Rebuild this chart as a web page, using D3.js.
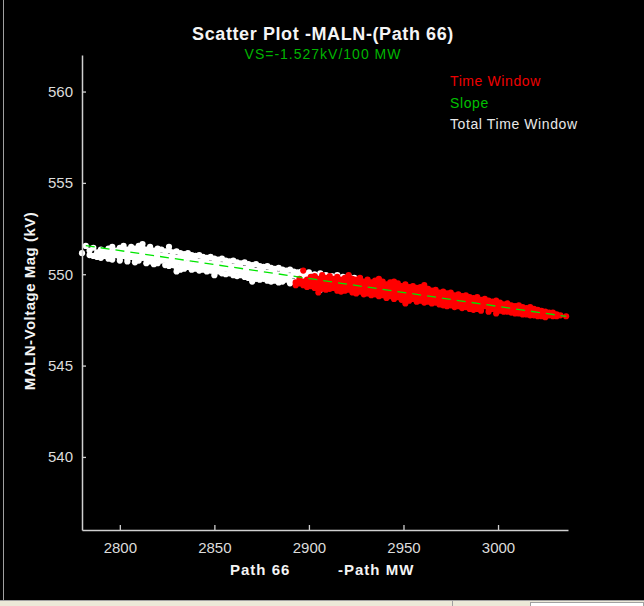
<!DOCTYPE html>
<meta charset="utf-8">
<style>
  body { margin: 0; background: #000; }
  svg { display: block; }
  text { font-family: "Liberation Sans", Arial, sans-serif; }
</style>
<svg width="644" height="606"></svg>
<script src="https://cdn.jsdelivr.net/npm/d3@7"></script>
<script>

// chart texts
var title = "Scatter Plot -MALN-(Path 66)",
    subtitle = "VS=-1.527kV/100 MW",
    yLabel = "MALN-Voltage Mag (kV)",
    xLabelA = "Path 66",
    xLabelB = "-Path MW";

var legendItems = [
  { name: "Time Window", color: "#ee0000" },
  { name: "Slope", color: "#00c000" },
  { name: "Total Time Window", color: "#e8e8e8" }
];

var xTicks = [2800, 2850, 2900, 2950, 3000],
    yTicks = [540, 545, 550, 555, 560];

// total time window (white): [MW, kV readings...]
var totalWindow = [
  [2780, 551.15], [2782, 551.55], [2784, 551.3, 551.05], [2786, 551.45, 551.0],
  [2788, 551.2, 550.95], [2790, 551.35, 551.1, 550.9], [2792, 551.25, 551.0],
  [2794, 551.4, 551.15, 550.85], [2796, 551.5, 551.2, 550.95, 550.8],
  [2798, 551.3, 551.05], [2800, 551.45, 551.2, 550.9, 550.75],
  [2802, 551.55, 551.3, 551.0], [2804, 551.35, 551.1, 550.85, 550.7],
  [2806, 551.5, 551.25, 550.95], [2808, 551.4, 551.15, 550.85, 550.65],
  [2810, 551.55, 551.3, 551.0, 550.75], [2812, 551.65, 551.45, 551.2, 550.9],
  [2814, 551.35, 551.1, 550.8, 550.6], [2816, 551.5, 551.25, 551.0, 550.7],
  [2818, 551.3, 551.05, 550.8, 550.55], [2820, 551.4, 551.15, 550.9, 550.6],
  [2822, 551.35, 551.0, 550.75], [2824, 551.25, 551.05, 550.8, 550.5],
  [2826, 551.5, 551.3, 550.95, 550.7, 550.45], [2828, 551.2, 551.0, 550.75, 550.5],
  [2830, 551.25, 550.9, 550.65, 550.35, 550.15], [2832, 551.15, 550.95, 550.7, 550.4, 550.25],
  [2834, 551.1, 550.85, 550.55, 550.3], [2836, 551.15, 550.9, 550.6, 550.4],
  [2838, 551.05, 550.8, 550.5, 550.25], [2840, 551.0, 550.75, 550.55, 550.3],
  [2842, 551.05, 550.7, 550.45, 550.2], [2844, 550.95, 550.75, 550.5, 550.25],
  [2846, 550.9, 550.65, 550.4, 550.15], [2848, 550.95, 550.6, 550.35, 550.2],
  [2850, 550.85, 550.65, 550.4, 550.1, 549.95], [2852, 550.8, 550.55, 550.3, 550.15],
  [2854, 550.85, 550.5, 550.25, 550.05], [2856, 550.75, 550.55, 550.3, 550.0],
  [2858, 550.7, 550.45, 550.2, 550.05], [2860, 550.75, 550.4, 550.15, 549.95],
  [2862, 550.65, 550.45, 550.2, 549.9], [2864, 550.6, 550.35, 550.1, 549.95],
  [2866, 550.65, 550.3, 550.05, 549.85], [2868, 550.55, 550.35, 550.1, 549.8],
  [2870, 550.5, 550.25, 550.0, 549.85, 549.6], [2872, 550.55, 550.2, 549.95, 549.75],
  [2874, 550.45, 550.25, 550.0, 549.7], [2876, 550.4, 550.15, 549.9, 549.75],
  [2878, 550.45, 550.1, 549.85, 549.65], [2880, 550.35, 550.15, 549.9, 549.6],
  [2882, 550.3, 550.05, 549.8, 549.65], [2884, 550.35, 550.0, 549.75, 549.55],
  [2886, 550.25, 550.05, 549.8, 549.6], [2888, 550.2, 549.95, 549.7],
  [2890, 550.25, 549.9, 549.65, 549.5], [2892, 550.15, 549.95, 549.6],
  [2894, 550.1, 549.85, 549.55], [2896, 550.15, 549.9], [2898, 550.05, 549.8, 549.5],
  [2900, 550.1, 549.85], [2903, 550.0, 549.75, 549.4], [2906, 550.05, 549.8, 549.15],
  [2909, 549.95, 549.35], [2912, 549.9, 549.3], [2915, 549.95, 549.25],
  [2918, 549.85], [2921, 549.9], [2924, 549.8], [2927, 549.75]
];

// selected time window (red): [MW, kV readings...]
var timeWindow = [
  [2893, 549.55, 549.4], [2895, 549.75, 549.5], [2897, 550.2, 549.6, 549.4],
  [2899, 549.7, 549.45, 549.3], [2901, 549.85, 549.6, 549.35],
  [2903, 549.9, 549.65, 549.45, 549.25], [2905, 549.75, 549.5, 549.3, 549.0],
  [2907, 549.95, 549.7, 549.45, 549.2], [2909, 549.8, 549.55, 549.35, 549.15],
  [2911, 549.9, 549.6, 549.4, 549.2], [2913, 549.75, 549.5, 549.25],
  [2915, 549.85, 549.6, 549.35, 549.1], [2917, 549.7, 549.45, 549.2, 549.05],
  [2919, 549.8, 549.55, 549.3, 549.1], [2921, 549.95, 549.65, 549.4, 549.15],
  [2923, 549.75, 549.5, 549.25, 549.0], [2925, 549.7, 549.45, 549.2, 548.95],
  [2927, 549.8, 549.55, 549.3, 549.05], [2929, 549.6, 549.35, 549.1, 548.9],
  [2931, 549.7, 549.45, 549.2, 548.95], [2933, 549.55, 549.3, 549.05, 548.85],
  [2935, 549.65, 549.4, 549.15, 548.9], [2937, 549.75, 549.5, 549.25, 549.0, 548.8],
  [2939, 549.6, 549.35, 549.1, 548.85], [2941, 549.45, 549.2, 548.95, 548.7],
  [2943, 549.55, 549.3, 549.05, 548.8], [2945, 549.6, 549.4, 549.15, 548.9, 548.65],
  [2947, 549.5, 549.25, 549.0, 548.75], [2949, 549.35, 549.1, 548.85, 548.6],
  [2951, 549.45, 549.2, 548.95, 548.7, 548.4], [2953, 549.3, 549.05, 548.8, 548.55],
  [2955, 549.35, 549.1, 548.85, 548.65], [2957, 549.25, 549.0, 548.75, 548.5],
  [2959, 549.3, 549.05, 548.8, 548.55], [2961, 549.4, 549.15, 548.9, 548.65, 548.45],
  [2963, 549.2, 548.95, 548.7, 548.5], [2965, 549.1, 548.85, 548.6, 548.4],
  [2967, 549.15, 548.9, 548.65, 548.45], [2969, 549.0, 548.75, 548.5, 548.35],
  [2971, 549.05, 548.8, 548.55, 548.3], [2973, 548.95, 548.7, 548.45, 548.25],
  [2975, 549.0, 548.75, 548.5, 548.3], [2977, 548.85, 548.6, 548.4, 548.2],
  [2979, 548.9, 548.65, 548.45, 548.25], [2981, 548.8, 548.55, 548.35, 548.15],
  [2983, 548.85, 548.6, 548.4, 548.2], [2985, 548.75, 548.5, 548.3, 548.1],
  [2987, 548.7, 548.45, 548.25, 548.05], [2989, 548.75, 548.5, 548.3, 548.1],
  [2991, 548.6, 548.4, 548.2, 548.0], [2993, 548.65, 548.45, 548.25],
  [2995, 548.55, 548.35, 548.15, 547.95], [2997, 548.5, 548.3, 548.1],
  [2999, 548.55, 548.25, 548.05, 547.85], [3001, 548.45, 548.2, 548.0],
  [3003, 548.35, 548.15, 547.95], [3005, 548.4, 548.2, 547.95],
  [3007, 548.3, 548.1, 547.9], [3009, 548.25, 548.05, 547.85],
  [3011, 548.3, 548.1, 547.85], [3013, 548.2, 548.0, 547.8],
  [3015, 548.15, 547.95, 547.8], [3017, 548.2, 548.0, 547.75],
  [3019, 548.1, 547.9, 547.75], [3021, 548.05, 547.85, 547.7],
  [3023, 548.0, 547.85, 547.7], [3025, 547.95, 547.8, 547.65],
  [3027, 547.9, 547.75], [3029, 547.9, 547.7], [3031, 547.8, 547.7],
  [3033, 547.75], [3036, 547.7]
];

// fitted slope line end points
var slopeMW = [2782, 3036],
    slopeKV = [551.57, 547.69];

var svg = d3.select("svg"),
    width = +svg.attr("width"),
    height = +svg.attr("height");

var x = d3.scaleLinear().domain([2780, 3037]).range([82, 568]),
    y = d3.scaleLinear().domain([536, 562]).range([530, 55]);

// window chrome
svg.append("rect").attr("width", width).attr("height", height).attr("fill", "#000");
svg.append("line").attr("x1", 3.5).attr("x2", 3.5).attr("y1", 0).attr("y2", 600)
  .attr("stroke", "#a0a0a0");
svg.append("rect").attr("x", 0).attr("y", 600).attr("width", width).attr("height", 6)
  .attr("fill", "#ece9d8");
svg.append("line").attr("x1", 0).attr("x2", width).attr("y1", 600.5).attr("y2", 600.5)
  .attr("stroke", "#a0a0a0");
svg.append("line").attr("x1", 452.5).attr("x2", 452.5).attr("y1", 601).attr("y2", 606)
  .attr("stroke", "#a0a0a0");
svg.append("rect").attr("x", 530.5).attr("y", 602.5).attr("width", 113).attr("height", 5)
  .attr("fill", "#fff").attr("stroke", "#a0a0a0");

// points
function flatten(rows) {
  var pts = [];
  rows.forEach(function(r) {
    for (var i = 1; i < r.length; i++) pts.push([r[0], r[i]]);
  });
  return pts;
}

svg.append("g").selectAll("circle")
  .data(flatten(totalWindow))
  .enter().append("circle")
    .attr("cx", function(d) { return x(d[0]); })
    .attr("cy", function(d) { return y(d[1]); })
    .attr("r", 3.1)
    .attr("fill", "#fff");

svg.append("g").selectAll("circle")
  .data(flatten(timeWindow))
  .enter().append("circle")
    .attr("cx", function(d) { return x(d[0]); })
    .attr("cy", function(d) { return y(d[1]); })
    .attr("r", 3.1)
    .attr("fill", "#ff0000");

// slope line
svg.append("line")
  .attr("x1", x(slopeMW[0])).attr("y1", y(slopeKV[0]))
  .attr("x2", x(slopeMW[1])).attr("y2", y(slopeKV[1]))
  .attr("stroke", "#00e600")
  .attr("stroke-width", 1.3)
  .attr("stroke-dasharray", "9,6");

// axes
var axisColor = "#d0d0d0";

var gx = svg.append("g")
  .attr("transform", "translate(0,530)")
  .call(d3.axisBottom(x).tickValues(xTicks).tickFormat(d3.format("d"))
    .tickSize(-5).tickPadding(12).tickSizeOuter(0));
var gy = svg.append("g")
  .attr("transform", "translate(82,0)")
  .call(d3.axisLeft(y).tickValues(yTicks).tickFormat(d3.format("d"))
    .tickSize(-4).tickPadding(9).tickSizeOuter(0));

[gx, gy].forEach(function(g) {
  g.select(".domain").attr("stroke", axisColor).attr("stroke-width", 1.5);
  g.selectAll(".tick line").attr("stroke", axisColor).attr("stroke-width", 1.3);
  g.selectAll(".tick text").attr("fill", "#dcdcdc")
    .style("font-family", "'Liberation Sans', Arial, sans-serif")
    .style("font-size", "15px");
});

// titles
svg.append("text")
  .attr("x", 323).attr("y", 40)
  .attr("text-anchor", "middle")
  .attr("fill", "#f4f4f4")
  .style("font-size", "18px").style("font-weight", "bold")
  .style("letter-spacing", "0.6px")
  .text(title);

svg.append("text")
  .attr("x", 323).attr("y", 59)
  .attr("text-anchor", "middle")
  .attr("fill", "#00b400")
  .style("font-size", "14px")
  .style("letter-spacing", "1px")
  .text(subtitle);

svg.append("text")
  .attr("transform", "translate(35,301) rotate(-90)")
  .attr("text-anchor", "middle")
  .attr("fill", "#f4f4f4")
  .style("font-size", "15px").style("font-weight", "bold")
  .style("letter-spacing", "0.5px")
  .text(yLabel);

svg.append("text")
  .attr("x", 230).attr("y", 575)
  .attr("fill", "#f4f4f4")
  .style("font-size", "15px").style("font-weight", "bold")
  .style("letter-spacing", "1px")
  .text(xLabelA);

svg.append("text")
  .attr("x", 338).attr("y", 575)
  .attr("fill", "#f4f4f4")
  .style("font-size", "15px").style("font-weight", "bold")
  .style("letter-spacing", "1px")
  .text(xLabelB);

// legend
svg.append("g").selectAll("text")
  .data(legendItems)
  .enter().append("text")
    .attr("x", 450)
    .attr("y", function(d, i) { return 86 + i * 21.5; })
    .attr("fill", function(d) { return d.color; })
    .style("font-size", "14px")
    .style("letter-spacing", "0.6px")
    .text(function(d) { return d.name; });

</script>
